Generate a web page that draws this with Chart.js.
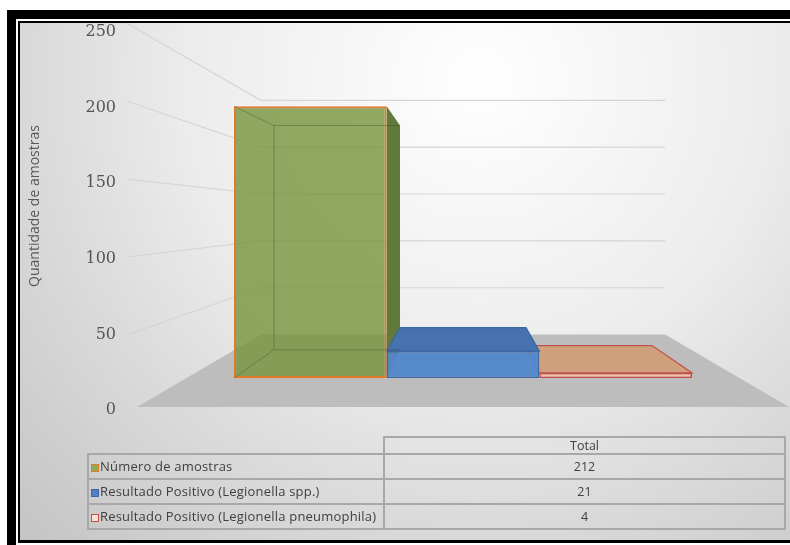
<!DOCTYPE html>
<html>
<head>
<meta charset="utf-8">
<title>Amostras de Legionella</title>
<script src="https://cdn.jsdelivr.net/npm/chart.js@4.4.1/dist/chart.umd.min.js"></script>
<style>
  html, body { margin: 0; padding: 0; background: #fff; }
  body { position: relative; width: 790px; height: 545px; overflow: hidden; font-family: 'Open Sans', sans-serif; }
  #bg {
    position: absolute; left: 20px; top: 23px; width: 770px; height: 517px;
    background: radial-gradient(circle 650px at 460px 57px, #ffffff 0%, #ececec 45%, #d9d9d9 70%, #c4c4c4 100%);
  }
  #chart { position: absolute; left: 0; top: 0; }
  .frame-outer {
    position: absolute; left: 7px; top: 10px; width: 820px; height: 600px;
    border-left: 9px solid #000; border-top: 9px solid #000;
  }
  .frame-inner {
    position: absolute; left: 18px; top: 21px; width: 800px; height: 517px;
    border-left: 2px solid #000; border-top: 2px solid #000; border-bottom: 3px solid #000;
  }
  #table {
    position: absolute; left: 87px; top: 436px;
    border-collapse: collapse; color: #404040; font-size: 13px;
  }
  #table td { border: 2px solid #a8a8a8; padding: 0; white-space: nowrap; }
  #table td.blank { border: none; }
  #table tr.head td { height: 15px; line-height: 15px; font-size: 12.5px; }
  #table tr.row td { height: 23px; line-height: 23px; }
  #table td.name { width: 292px; padding-left: 2px; letter-spacing: 0.2px; }
  #table td.val { width: 399px; text-align: center; font-size: 12.5px; }
  .key {
    display: inline-block; width: 6px; height: 6px; margin-right: 1px;
    border: 1.5px solid; vertical-align: -1px;
  }
</style>
</head>
<body>
<div id="bg"></div>
<canvas id="chart" width="790" height="545"></canvas>
<table id="table"></table>
<div class="frame-outer"></div>
<div class="frame-inner"></div>
<script>
// data
const CATEGORIES = ['Total'];
const SERIES_NAMES = [
  'Número de amostras',
  'Resultado Positivo (Legionella spp.)',
  'Resultado Positivo (Legionella pneumophila)'
];
const TOTALS = [212, 21, 4];
const Y_TICKS = [0, 50, 100, 150, 200, 250];
const Y_TITLE = 'Quantidade de amostras';

// per-series colours: front face, outline, side face, top face, table key
const FRONT = ['rgba(118,147,60,0.80)', 'rgba(82,135,202,0.96)', 'rgba(247,193,163,0.95)'];
const BORDER = ['#e07b28', '#3a67a5', '#c0504d'];
const SIDE = ['#5f7a3b', '#3f6aa4', '#d49a78'];
const TOP = ['#6f8b45', '#4672ae', '#cea07b'];
const KEY_FILL = ['#8fab5a', '#4f81c4', '#fbe2d5'];
const KEY_BORDER = ['#e07b28', '#3a67a5', '#c0504d'];

// perspective set-up of the 3-D box
const EYE_LEVEL = 126;   // axis value at eye height
const D_BAR = 0.152;     // depth of the bar fronts
const D_BACK = 0.30;     // depth of the bar backs
const D_WALL = 0.38;     // depth of the back wall
const WALL_MAX = 265.9;  // wall axis runs a bit past 250 so the title sits centred

// bar axis is the wall axis seen at the depth of the bar fronts
const BAR_MIN = -D_BAR * EYE_LEVEL / (1 - D_BAR);
const BAR_MAX = BAR_MIN + WALL_MAX / (1 - D_BAR);

function project(p, vp, f) {
  return { x: p.x + (vp.x - p.x) * f, y: p.y + (vp.y - p.y) * f };
}

function poly(ctx, pts) {
  ctx.beginPath();
  ctx.moveTo(pts[0].x, pts[0].y);
  for (let i = 1; i < pts.length; i++) ctx.lineTo(pts[i].x, pts[i].y);
  ctx.closePath();
}

function vanishingPoint(chart) {
  const a = chart.chartArea;
  return { x: (a.left + a.right) / 2, y: chart.scales.yWall.getPixelForValue(EYE_LEVEL) };
}

function barBoxes(chart) {
  const boxes = [];
  chart.data.datasets.forEach((ds, i) => {
    const meta = chart.getDatasetMeta(i);
    meta.data.forEach(el => {
      const { x, y, base, width } = el.getProps(['x', 'y', 'base', 'width'], true);
      boxes.push({ i, L: x - width / 2, R: x + width / 2, T: y, B: base, cx: x });
    });
  });
  return boxes;
}

// walls, floor and the hidden faces of each bar
const box3d = {
  id: 'box3d',
  beforeDatasetsDraw(chart) {
    const { ctx, chartArea: a } = chart;
    const wall = chart.scales.yWall;
    const vp = vanishingPoint(chart);
    const y0 = wall.getPixelForValue(0);

    ctx.save();
    // gridlines running along the side and the back wall
    ctx.strokeStyle = '#d5d5d5';
    ctx.lineWidth = 1.2;
    Y_TICKS.forEach(v => {
      if (v === 0) return;
      const y = wall.getPixelForValue(v);
      const start = project({ x: a.left, y }, vp, -0.03);
      const b0 = project({ x: a.left, y }, vp, D_WALL);
      const b1 = project({ x: a.right, y }, vp, D_WALL);
      ctx.beginPath();
      ctx.moveTo(start.x, start.y);
      ctx.lineTo(b0.x, b0.y);
      ctx.lineTo(b1.x, b0.y);
      ctx.stroke();
    });

    // floor
    const fl = { x: a.left, y: y0 };
    const fr = { x: a.right, y: y0 };
    poly(ctx, [fl, fr, project(fr, vp, D_WALL), project(fl, vp, D_WALL)]);
    ctx.fillStyle = '#bdbdbd';
    ctx.fill();

    // side and top faces, farthest bars from the eye first
    const g = (D_BACK - D_BAR) / (1 - D_BAR);
    const boxes = barBoxes(chart).sort((p, q) => Math.abs(q.cx - vp.x) - Math.abs(p.cx - vp.x));
    boxes.forEach(b => {
      const tl = { x: b.L, y: b.T }, tr = { x: b.R, y: b.T };
      const bl = { x: b.L, y: b.B }, br = { x: b.R, y: b.B };
      ctx.lineWidth = 1.2;
      ctx.strokeStyle = BORDER[b.i];
      if (b.R < vp.x) {
        poly(ctx, [tr, project(tr, vp, g), project(br, vp, g), br]);
        ctx.fillStyle = SIDE[b.i];
        ctx.fill();
      }
      if (b.L > vp.x) {
        poly(ctx, [tl, project(tl, vp, g), project(bl, vp, g), bl]);
        ctx.fillStyle = SIDE[b.i];
        ctx.fill();
      }
      if (b.T > vp.y) {
        poly(ctx, [tl, tr, project(tr, vp, g), project(tl, vp, g)]);
        ctx.fillStyle = TOP[b.i];
        ctx.fill();
        ctx.stroke();
      }
    });
    ctx.restore();
  },
  afterDatasetsDraw(chart) {
    // back edges showing through the translucent bars
    const { ctx } = chart;
    const vp = vanishingPoint(chart);
    const g = (D_BACK - D_BAR) / (1 - D_BAR);
    ctx.save();
    ctx.strokeStyle = 'rgba(60,70,30,0.35)';
    ctx.lineWidth = 1;
    barBoxes(chart).forEach(b => {
      if (b.T <= vp.y) {
        const tl = project({ x: b.L, y: b.T }, vp, g);
        const tr = project({ x: b.R, y: b.T }, vp, g);
        const bl = project({ x: b.L, y: b.B }, vp, g);
        const br = project({ x: b.R, y: b.B }, vp, g);
        ctx.beginPath();
        ctx.moveTo(b.L, b.T); ctx.lineTo(tl.x, tl.y); ctx.lineTo(tr.x, tr.y);
        ctx.moveTo(tl.x, tl.y); ctx.lineTo(bl.x, bl.y); ctx.lineTo(br.x, br.y);
        ctx.moveTo(b.L, b.B); ctx.lineTo(bl.x, bl.y);
        ctx.stroke();
      }
    });
    ctx.restore();
  }
};

new Chart(document.getElementById('chart'), {
  type: 'bar',
  data: {
    labels: CATEGORIES,
    datasets: SERIES_NAMES.map((name, i) => ({
      label: name,
      data: [TOTALS[i]],
      yAxisID: 'y',
      backgroundColor: FRONT[i],
      borderColor: BORDER[i],
      borderWidth: i === 0 ? 2 : 1.5,
      borderSkipped: false,
      barPercentage: 1,
      categoryPercentage: 0.7025
    }))
  },
  options: {
    responsive: false,
    animation: false,
    devicePixelRatio: 1,
    layout: { padding: { left: 20, top: 5, right: 1, bottom: 138 } },
    plugins: { legend: { display: false }, tooltip: { enabled: false } },
    scales: {
      x: { display: false, offset: true },
      // bar axis: drawn invisibly, only keeps a gap between the labels and the floor
      y: {
        min: BAR_MIN,
        max: BAR_MAX,
        weight: 0,
        grid: { display: false },
        border: { display: false },
        ticks: { display: false },
        afterFit: s => { s.width = 21; }
      },
      yWall: {
        position: 'left',
        weight: 1,
        min: 0,
        max: WALL_MAX,
        grid: { display: false, drawTicks: false },
        border: { display: false },
        afterBuildTicks: s => { s.ticks = Y_TICKS.map(v => ({ value: v })); },
        afterFit: s => { s.width = 96; },
        ticks: {
          padding: 0,
          labelOffset: 3,
          color: '#555555',
          font: { family: 'DejaVu Serif', size: 16, lineHeight: 0.5 }
        },
        title: {
          display: true,
          text: Y_TITLE,
          color: '#595959',
          font: { family: 'Open Sans', size: 14 },
          padding: { top: 6.6, bottom: 0 }
        }
      }
    }
  },
  plugins: [box3d]
});

// data table under the plot
const table = document.getElementById('table');
let html = '<tr class="head"><td class="blank"></td><td class="val">' + CATEGORIES[0] + '</td></tr>';
SERIES_NAMES.forEach((name, i) => {
  html += '<tr class="row"><td class="name"><span class="key" style="background:' + KEY_FILL[i] +
    ';border-color:' + KEY_BORDER[i] + '"></span>' + name + '</td><td class="val">' + TOTALS[i] + '</td></tr>';
});
table.innerHTML = html;
</script>
</body>
</html>
